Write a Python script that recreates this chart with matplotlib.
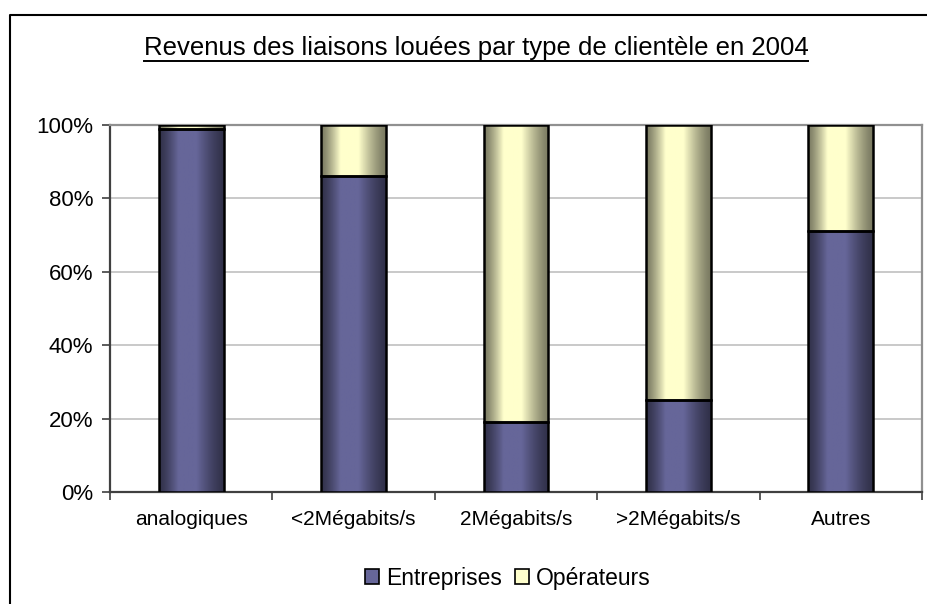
import numpy as np
import matplotlib
matplotlib.use("Agg")
import matplotlib.pyplot as plt
import matplotlib.patches as patches
from matplotlib.lines import Line2D
from matplotlib.ticker import PercentFormatter

# Share of 2004 leased-line revenue by customer type (%)
categories = ["analogiques", "<2Mégabits/s", "2Mégabits/s", ">2Mégabits/s", "Autres"]
entreprises = [99, 86, 19, 25, 71]
operateurs = [1, 14, 81, 75, 29]
series_names = ["Entreprises", "Opérateurs"]
series_colors = ["#666699", "#FFFFCC"]
title = "Revenus des liaisons louées par type de clientèle en 2004"

plt.rcParams["font.family"] = ["Liberation Sans", "DejaVu Sans"]

W, H = 928, 604
fig = plt.figure(figsize=(W / 100, H / 100), dpi=100)
ax = fig.add_axes([110 / W, 1 - 492 / H, (922 - 110) / W, (492 - 125) / H])


def shade(color, n=100, left=0.3, right=0.42):
    """Cylinder-like shading: dark ramps at both edges, light plateau in between."""
    rgb = np.array(matplotlib.colors.to_rgb(color))
    t = np.linspace(0, 1, n)
    u = np.clip(np.minimum(t / left, (1 - t) / right), 0, 1)
    f = 0.48 + 0.52 * u ** 1.3
    return (f[:, None] * rgb[None, :])[None, :, :]


x = np.arange(len(categories))
width = 0.4
bottoms = np.zeros(len(categories))
for vals, name, col in zip([entreprises, operateurs], series_names, series_colors):
    bars = ax.bar(x, vals, width, bottom=bottoms, color=col, edgecolor="black",
                  linewidth=1.8, zorder=3, label=name)
    grad = shade(col)
    for b in bars:
        x0, y0 = b.get_x(), b.get_y()
        im = ax.imshow(grad, extent=[x0, x0 + b.get_width(), y0, y0 + b.get_height()],
                       aspect="auto", interpolation="bilinear", zorder=3.5)
        im.set_clip_path(b)
        b.set_facecolor("none")
        b.set_zorder(4)
    bottoms += np.array(vals)

ax.set_xlim(-0.5, len(categories) - 0.5)
ax.set_ylim(0, 100)
ax.set_yticks(np.arange(0, 101, 20))
ax.yaxis.set_major_formatter(PercentFormatter(decimals=0))
ax.grid(axis="y", color="#c0c0c0", linewidth=1.2, zorder=0)
ax.set_axisbelow(True)

ax.set_xticks(x)
ax.set_xticklabels(categories)
ax.set_xticks(np.arange(-0.5, len(categories)), minor=True)
ax.tick_params(axis="x", which="major", length=0, pad=13, labelsize=15)
ax.tick_params(axis="x", which="minor", length=6, width=1.2, color="#404040", direction="out")
ax.tick_params(axis="y", length=6, width=1.2, color="#404040", pad=6, labelsize=16)

for side in ["left", "bottom"]:
    ax.spines[side].set_color("#404040")
    ax.spines[side].set_linewidth(1.6)
for side in ["top", "right"]:
    ax.spines[side].set_color("#909090")
    ax.spines[side].set_linewidth(1.6)

# legend with plain swatches
handles = [patches.Rectangle((0, 0), 1, 1, facecolor=c, edgecolor="black", linewidth=1.2)
           for c in series_colors]
fig.legend(handles, series_names, loc="center", bbox_to_anchor=(508 / W, 1 - 578 / H),
           ncol=2, frameon=False, fontsize=16.5, handlelength=0.6, handleheight=0.6,
           handletextpad=0.3, columnspacing=0.6)

# underlined title
t = fig.text(476 / W, 1 - 48 / H, title, ha="center", va="center", fontsize=18.5)
fig.canvas.draw()
bb = t.get_window_extent().transformed(fig.transFigure.inverted())
fig.add_artist(Line2D([bb.x0, bb.x1], [bb.y0 - 0.002, bb.y0 - 0.002],
                      transform=fig.transFigure, color="black", linewidth=1.4))

# chart frame (left and top edges only inside the image)
fig.add_artist(Line2D([10 / W, 10 / W, 1.0], [0.0, 1 - 15 / H, 1 - 15 / H],
                      transform=fig.transFigure, color="black", linewidth=1.5))

fig.savefig("out.png", dpi=100)
